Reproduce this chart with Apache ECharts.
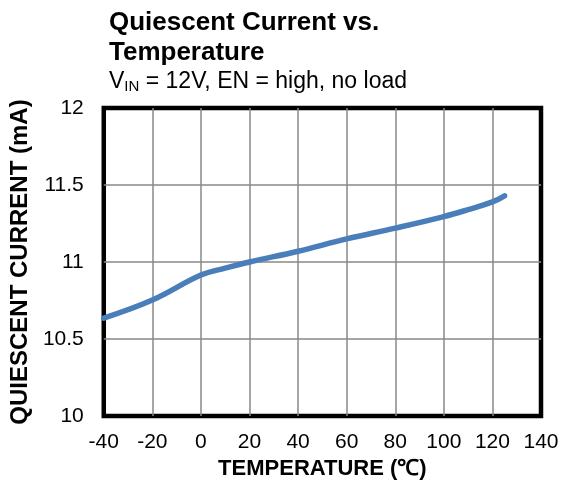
<!DOCTYPE html>
<html>
<head>
<meta charset="utf-8">
<script src="https://cdn.jsdelivr.net/npm/echarts@6/dist/echarts.min.js"></script>
<style>
  html, body { margin: 0; padding: 0; background: #fff; }
  #main { width: 568px; height: 491px; }
</style>
</head>
<body>
<div id="main"></div>
<script>
// temperature (°C) and quiescent current (mA)
var temps = [-40, -20, 0, 10, 20, 40, 60, 80, 100, 110, 120, 125];
var current = [10.636, 10.753, 10.915, 10.96, 11.0, 11.07, 11.15, 11.22, 11.295, 11.34, 11.39, 11.43];

var xTicks = [-40, 140, 20];   // min, max, step
var yTicks = [10, 12, 0.5];

var chart = echarts.init(document.getElementById('main'));

var font = 'Arial, "Liberation Sans", sans-serif';

var option = {
  animation: false,
  title: {
    text: 'Quiescent Current vs.\nTemperature',
    subtext: '{v|V}{s|IN}{v| = 12V, EN = high, no load}',
    left: 104,
    top: 3,
    itemGap: 1,
    textStyle: {
      fontFamily: font,
      fontSize: 26,
      fontWeight: 'bold',
      color: '#000',
      lineHeight: 30
    },
    subtextStyle: {
      fontFamily: font,
      color: '#000',
      rich: {
        v: { fontFamily: font, fontSize: 23, color: '#000' },
        s: { fontFamily: font, fontSize: 15, color: '#000', padding: [10, 0, 0, 0] }
      }
    }
  },
  grid: {
    left: 103,
    right: 27,
    top: 108,
    bottom: 75,
    show: true,
    borderColor: '#000',
    borderWidth: 4.5,
    backgroundColor: 'transparent'
  },
  xAxis: {
    type: 'value',
    min: xTicks[0],
    max: xTicks[1],
    interval: xTicks[2],
    name: 'TEMPERATURE (℃)',
    nameLocation: 'middle',
    nameGap: 42,
    nameTextStyle: { fontFamily: font, fontSize: 22, fontWeight: 'bold', color: '#000' },
    axisLine: { show: false },
    axisTick: { show: false },
    axisLabel: { fontFamily: font, fontSize: 21, color: '#000', margin: 16 },
    splitLine: { showMinLine: false, showMaxLine: false, lineStyle: { color: '#888', width: 1.5 } }
  },
  yAxis: {
    type: 'value',
    min: yTicks[0],
    max: yTicks[1],
    interval: yTicks[2],
    name: 'QUIESCENT CURRENT (mA)',
    nameLocation: 'middle',
    nameGap: 65,
    nameTextStyle: { fontFamily: font, fontSize: 24, fontWeight: 'bold', color: '#000' },
    axisLine: { show: false },
    axisTick: { show: false },
    axisLabel: { fontFamily: font, fontSize: 21, color: '#000', margin: 20 },
    splitLine: { showMinLine: false, showMaxLine: false, lineStyle: { color: '#888', width: 1.5 } }
  },
  series: [{
    type: 'line',
    data: temps.map(function (t, i) { return [t, current[i]]; }),
    smooth: 0.4,
    showSymbol: false,
    lineStyle: { color: '#4a7ebb', width: 5.5, cap: 'round' }
  }]
};

chart.setOption(option);
</script>
</body>
</html>
